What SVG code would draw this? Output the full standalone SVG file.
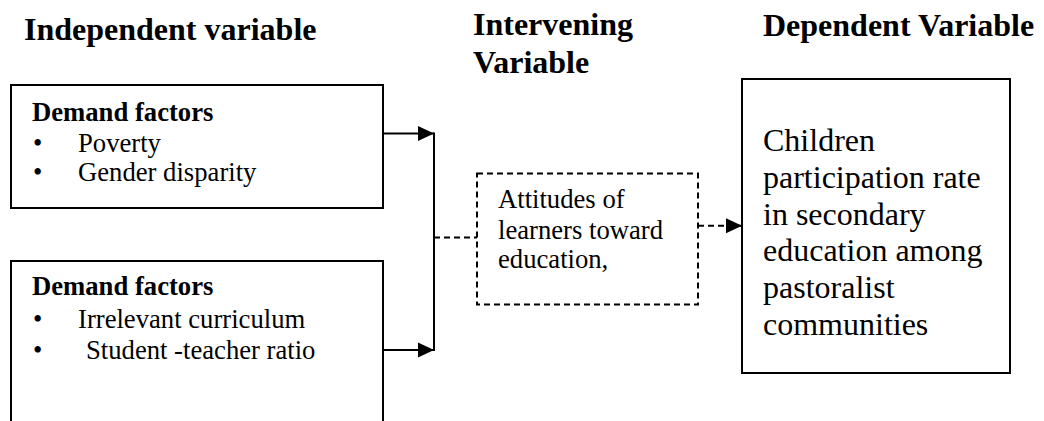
<svg xmlns="http://www.w3.org/2000/svg" width="1044" height="421" viewBox="0 0 1044 421">
<defs>
<style>
.hd{font-family:"Liberation Serif","Times New Roman",serif;font-weight:bold;font-size:32px;fill:#000}
.t{font-family:"Liberation Serif","Times New Roman",serif;font-size:26.67px;fill:#000}
.tb{font-family:"Liberation Serif","Times New Roman",serif;font-size:26.67px;font-weight:bold;fill:#000}
.tl{font-family:"Liberation Serif","Times New Roman",serif;font-size:32px;fill:#000}
.box{fill:#fff;stroke:#000;stroke-width:2}
.dbox{fill:#fff;stroke:#000;stroke-width:2;stroke-dasharray:6 4}
.ln{fill:none;stroke:#000;stroke-width:2}
.dln{fill:none;stroke:#000;stroke-width:2;stroke-dasharray:6 4}
</style>
<marker id="ah" markerUnits="userSpaceOnUse" markerWidth="16" markerHeight="16" viewBox="0 0 16 16" refX="16" refY="8" orient="auto">
<path d="M0,0.5 L16,8 L0,15.5 Z" fill="#000"/>
</marker>
</defs>
<rect width="1044" height="421" fill="#fff"/>
<g id="headers">
<text class="hd" x="24" y="40">Independent variable</text>
<text class="hd" x="473" y="35">Intervening</text>
<text class="hd" x="473" y="73">Variable</text>
<text class="hd" x="763" y="36">Dependent Variable</text>
</g>
<g id="connectors">
<line class="ln" x1="383" y1="133.5" x2="434" y2="133.5" marker-end="url(#ah)"/>
<line class="ln" x1="383" y1="350" x2="434" y2="350" marker-end="url(#ah)"/>
<line class="ln" x1="434" y1="132.5" x2="434" y2="351"/>
<line class="dln" x1="434" y1="237.5" x2="477" y2="237.5"/>
<line class="dln" x1="698" y1="225.7" x2="742" y2="225.7" marker-end="url(#ah)"/>
</g>
<g id="node-demand1">
<rect class="box" x="11" y="85" width="372" height="123"/>
<text class="tb" x="32" y="121">Demand factors</text>
<text class="t" x="33" y="152">•</text>
<text class="t" x="78" y="152">Poverty</text>
<text class="t" x="33" y="181">•</text>
<text class="t" x="78" y="181">Gender disparity</text>
</g>
<g id="node-demand2">
<rect class="box" x="11" y="261" width="372" height="200"/>
<text class="tb" x="32" y="295">Demand factors</text>
<text class="t" x="33" y="328">•</text>
<text class="t" x="78" y="328">Irrelevant curriculum</text>
<text class="t" x="33" y="359">•</text>
<text class="t" x="86" y="359">Student -teacher ratio</text>
</g>
<g id="node-intervening">
<rect class="dbox" x="477" y="173.5" width="221" height="131"/>
<text class="t" x="498" y="208">Attitudes of</text>
<text class="t" x="498" y="239">learners toward</text>
<text class="t" x="498" y="268">education,</text>
</g>
<g id="node-dependent">
<rect class="box" x="742" y="79" width="268" height="294"/>
<text class="tl" x="763" y="151">Children</text>
<text class="tl" x="763" y="187.8">participation rate</text>
<text class="tl" x="763" y="224.6">in secondary</text>
<text class="tl" x="763" y="261.4">education among</text>
<text class="tl" x="763" y="298.2">pastoralist</text>
<text class="tl" x="763" y="335">communities</text>
</g>
</svg>
